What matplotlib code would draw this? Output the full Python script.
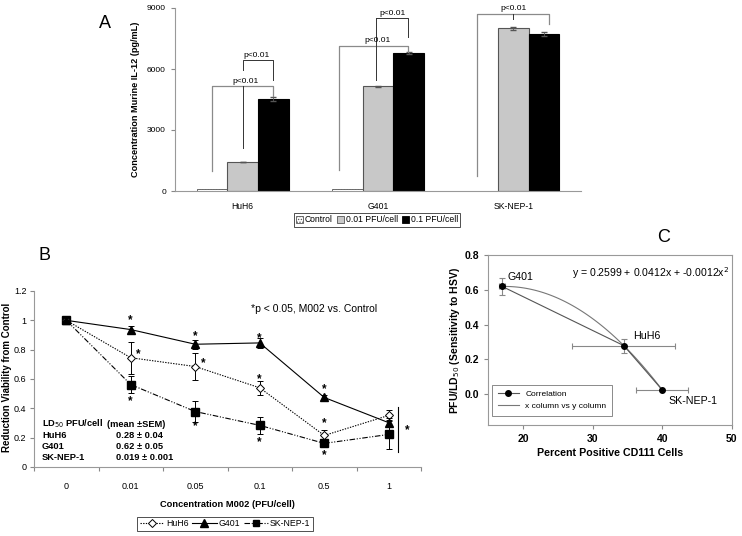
import numpy as np
import matplotlib
matplotlib.use("Agg")
import matplotlib.pyplot as plt
from matplotlib.patches import Patch
from matplotlib.lines import Line2D

plt.rcParams["font.family"] = "Liberation Sans"
plt.rcParams["hatch.color"] = "#555555"
plt.rcParams["hatch.linewidth"] = 0.6

# ---- panel A data ----
cell_lines = ["HuH6", "G401", "SK-NEP-1"]
il12_control = [90, 90, 0]
il12_low = [1420, 5150, 8000]
il12_high = [4520, 6800, 7720]
il12_low_err = [0, 30, 60]
il12_high_err = [90, 60, 100]

# ---- panel B data ----
conc_labels = ["0", "0.01", "0.05", "0.1", "0.5", "1"]
huh6_via = [1.0, 0.745, 0.685, 0.54, 0.215, 0.352]
huh6_err = [0, 0.11, 0.09, 0.047, 0.04, 0.04]
g401_via = [1.0, 0.937, 0.837, 0.846, 0.474, 0.302]
g401_err = [0, 0.025, 0.03, 0.035, 0.02, 0.03]
sknep_via = [1.0, 0.562, 0.378, 0.284, 0.161, 0.222]
sknep_err = [0, 0.06, 0.07, 0.06, 0.02, 0.1]
star_x = [1, 1.12, 1, 2, 2.12, 2, 3, 3, 3, 4, 4, 4, 5.28]
star_y = [1.0, 0.77, 0.45, 0.89, 0.71, 0.28, 0.88, 0.6, 0.17, 0.53, 0.3, 0.08, 0.25]

# ---- panel C data ----
cd111_pct = [17.0, 34.5, 40.0]
cd111_err = [0.4, 7.4, 3.75]
sens = [0.62, 0.278, 0.023]
sens_err = [0.05, 0.04, 0.0]
c_names = ["G401", "HuH6", "SK-NEP-1"]

fig = plt.figure(figsize=(7.42, 5.36), dpi=100)

# ================= A =================
axA = fig.add_axes([175/742, 1-191/536, 406/742, 183/536])
x = np.arange(len(cell_lines))
w = 0.227
axA.bar(x - w, il12_control, w, color="white", edgecolor="#555555", hatch="......", linewidth=0.6)
axA.bar(x, il12_low, w, color="#c8c8c8", edgecolor="#555555", linewidth=0.8,
        yerr=il12_low_err, error_kw=dict(ecolor="#555555", elinewidth=0.6, capsize=2))
axA.bar(x + w, il12_high, w, color="black", edgecolor="black", linewidth=0.8,
        yerr=il12_high_err, error_kw=dict(ecolor="#555555", elinewidth=0.6, capsize=2))
axA.set_xlim(-0.5, 2.5)
axA.set_ylim(0, 9000)
axA.set_yticks([0, 3000, 6000, 9000])
axA.set_xticks(x)
axA.set_xticklabels(cell_lines)
axA.tick_params(axis="x", length=0, pad=8, labelsize=6.2)
axA.tick_params(axis="y", length=3, labelsize=6.1, color="#888888")
for s in ["top", "right"]:
    axA.spines[s].set_visible(False)
for s in ["left", "bottom"]:
    axA.spines[s].set_color("#999999")
axA.set_ylabel("Concentration Murine IL-12 (pg/mL)", fontsize=6.6, fontweight="bold", labelpad=5)

outer = "#8a8a8a"
inner = "#333333"
lw = 0.9
# HuH6 brackets
axA.plot([-w, -w, w, w], [1000, 5140, 5140, 4650], color=outer, lw=lw)
axA.plot([0, 0], [2100, 5140], color=inner, lw=0.7)
axA.plot([0, 0, w, w], [5960, 6420, 6420, 5470], color=inner, lw=0.7)
axA.text(0.02, 5230, "p<0.01", ha="center", va="bottom", fontsize=6.1)
axA.text(0.1, 6500, "p<0.01", ha="center", va="bottom", fontsize=6.1)
# G401 brackets
axA.plot([1-0.29, 1-0.29, 1+0.22, 1+0.22], [1030, 7140, 7140, 6860], color=outer, lw=lw)
axA.plot([0.985, 0.985], [5470, 8500], color=inner, lw=0.7)
axA.plot([0.985, 0.985, 1.22, 1.22], [8500, 8500, 8500, 7570], color=inner, lw=0.7)
axA.text(1.0, 7240, "p<0.01", ha="center", va="bottom", fontsize=6.1)
axA.text(1.11, 8560, "p<0.01", ha="center", va="bottom", fontsize=6.1)
# SK-NEP-1 bracket
axA.plot([2-0.27, 2-0.27, 2.26, 2.26], [740, 8700, 8700, 8210], color=outer, lw=lw)
axA.plot([2.0, 2.0], [8700, 8480], color=inner, lw=0.7)
axA.text(2.0, 8780, "p<0.01", ha="center", va="bottom", fontsize=6.1)

fig.text(105/742, 1-23/536, "A", fontsize=13, ha="center", va="center")

handlesA = [Patch(facecolor="white", edgecolor="#555555", hatch="......", linewidth=0.6, label="Control"),
            Patch(facecolor="#c8c8c8", edgecolor="#555555", linewidth=0.6, label="0.01 PFU/cell"),
            Patch(facecolor="black", edgecolor="black", linewidth=0.6, label="0.1 PFU/cell")]
legA = fig.legend(handles=handlesA, loc="center", bbox_to_anchor=(377/742, 1-220/536), ncol=3,
                  fontsize=6.2, frameon=True, fancybox=False, edgecolor="black", handlelength=0.8,
                  handleheight=0.8, handletextpad=0.2, columnspacing=0.5, borderpad=0.3)
legA.get_frame().set_linewidth(0.6)

# ================= B =================
axB = fig.add_axes([34/742, 1-467/536, 387/742, 176/536])
xb = np.arange(len(conc_labels))
ekw = dict(ecolor="black", elinewidth=0.7, capsize=2.5, capthick=0.7)
axB.errorbar(xb, sknep_via, yerr=sknep_err, color="black", lw=0.8, dashes=(5, 1.5, 1, 1.5, 1, 1.5),
             marker="s", ms=6, mfc="black", mec="black", **ekw, zorder=3)
axB.errorbar(xb, huh6_via, yerr=huh6_err, color="black", lw=0.8, dashes=(1.2, 1.2),
             marker="D", ms=4.5, mfc="white", mec="black", mew=0.7, **ekw, zorder=4)
axB.errorbar(xb, g401_via, yerr=g401_err, color="black", lw=0.8, ls="-",
             marker="^", ms=6, mfc="black", mec="black", **ekw, zorder=5)
for sx, sy in zip(star_x, star_y):
    axB.text(sx, sy, "*", ha="center", va="center", fontsize=8.5, fontweight="bold")
axB.plot([5.14, 5.14], [0.104, 0.41], color="black", lw=0.8)
axB.text(2.86, 1.08, "*p < 0.05, M002 vs. Control", fontsize=7.5, va="center")

axB.set_xlim(-0.5, 5.5)
axB.set_ylim(0, 1.2)
axB.set_yticks([0, 0.2, 0.4, 0.6, 0.8, 1.0, 1.2])
axB.set_yticklabels(["0", "0.2", "0.4", "0.6", "0.8", "1", "1.2"])
axB.set_xticks(np.arange(-0.5, 6.0, 1.0))
axB.set_xticklabels([])
axB.set_xticks(xb, minor=True)
axB.set_xticklabels(conc_labels, minor=True)
axB.tick_params(axis="x", which="major", length=3, color="#888888")
axB.tick_params(axis="x", which="minor", length=0, pad=11, labelsize=6.5)
axB.tick_params(axis="y", length=3, labelsize=6.5, color="#888888", pad=2.5)
for s in ["top", "right"]:
    axB.spines[s].set_visible(False)
for s in ["left", "bottom"]:
    axB.spines[s].set_color("#999999")
axB.set_xlabel("Concentration M002 (PFU/cell)", fontsize=6.7, fontweight="bold", labelpad=6)
fig.text(7/742, 1-377/536, "Reduction Viability from Control", rotation=90, fontsize=7,
         fontweight="bold", ha="center", va="center")

ld_left = ["LD$_{50}$ PFU/cell", "HuH6", "G401", "SK-NEP-1"]
ld_right = ["(mean \u00b1SEM)", "0.28 \u00b1 0.04", "0.62 \u00b1 0.05", "0.019 \u00b1 0.001"]
ld_y = [0.293, 0.213, 0.138, 0.066]
for i, (a, b, yy) in enumerate(zip(ld_left, ld_right, ld_y)):
    axB.text(-0.376, yy, a, fontsize=6.7, fontweight="bold", va="center")
    axB.text(0.63 if i == 0 else 0.77, yy, b, fontsize=6.7, fontweight="bold", va="center")

fig.text(45/742, 1-255/536, "B", fontsize=13, ha="center", va="center")

handlesB = [Line2D([], [], color="black", lw=0.8, dashes=(1.2, 1.2), marker="D", ms=4, mfc="white", mec="black", mew=0.7),
            Line2D([], [], color="black", lw=0.8, marker="^", ms=5.5, mfc="black"),
            Line2D([], [], color="black", lw=0.8, dashes=(5, 1.5, 1, 1.5, 1, 1.5), marker="s", ms=5, mfc="black")]
legB = fig.legend(handles=handlesB, labels=["HuH6", "G401", "SK-NEP-1"], loc="center",
                  bbox_to_anchor=(225/742, 1-524/536), ncol=3, fontsize=6.3, frameon=True, fancybox=False,
                  edgecolor="black", handlelength=2.8, handletextpad=0.2, columnspacing=0.4,
                  borderpad=0.3, numpoints=1)
legB.get_frame().set_linewidth(0.6)

# ================= C =================
axC = fig.add_axes([488.3/742, 1-425/536, 243.4/742, 169.7/536])
coef = np.polyfit(cd111_pct, sens, 2)
xc = np.linspace(min(cd111_pct), max(cd111_pct), 100)
axC.errorbar(cd111_pct, sens, xerr=cd111_err, yerr=sens_err, fmt="none", ecolor="#888888",
             elinewidth=0.8, capsize=2.5, capthick=0.8)
axC.plot(cd111_pct, sens, color="#555555", lw=0.8, marker="o", ms=4, mfc="black", mec="black",
         label="Correlation", zorder=4)
axC.plot(xc, np.polyval(coef, xc), color="#777777", lw=0.8, label="x column vs y column")
axC.set_xlim(15, 50)
axC.set_ylim(-0.18, 0.8)
axC.set_xticks([20, 30, 40, 50])
axC.set_yticks([0.0, 0.2, 0.4, 0.6, 0.8])
axC.set_yticklabels(["0.0", "0.2", "0.4", "0.6", "0.8"])
axC.tick_params(length=3, labelsize=7.5, color="#888888")
for lab in axC.get_xticklabels() + axC.get_yticklabels():
    lab.set_fontweight("bold")
for s in axC.spines.values():
    s.set_color("#999999")
axC.set_xlabel("Percent Positive CD111 Cells", fontsize=7.7, fontweight="bold", labelpad=3)
axC.set_ylabel("PFU/LD$_{50}$ (Sensitivity to HSV)", fontsize=7.5, fontweight="bold", labelpad=2)
name_pos = [(17.8, 0.677), (35.8, 0.335), (40.85, -0.044)]
for nm, (tx, ty) in zip(c_names, name_pos):
    axC.text(tx, ty, nm, fontsize=7.7, va="center")
axC.text(49.7, 0.70, "y = 0.2599 + 0.0412x + -0.0012x$^2$", fontsize=7.6, ha="right", va="center")
legC = axC.legend(loc="lower left", bbox_to_anchor=(0.015, 0.053), borderaxespad=0, fontsize=6,
                  frameon=True, fancybox=False, edgecolor="#555555", handlelength=2.5, borderpad=0.7)
legC.get_frame().set_linewidth(0.6)

fig.text(664/742, 1-238/536, "C", fontsize=13, ha="center", va="center")

fig.savefig("out.png", dpi=100)
